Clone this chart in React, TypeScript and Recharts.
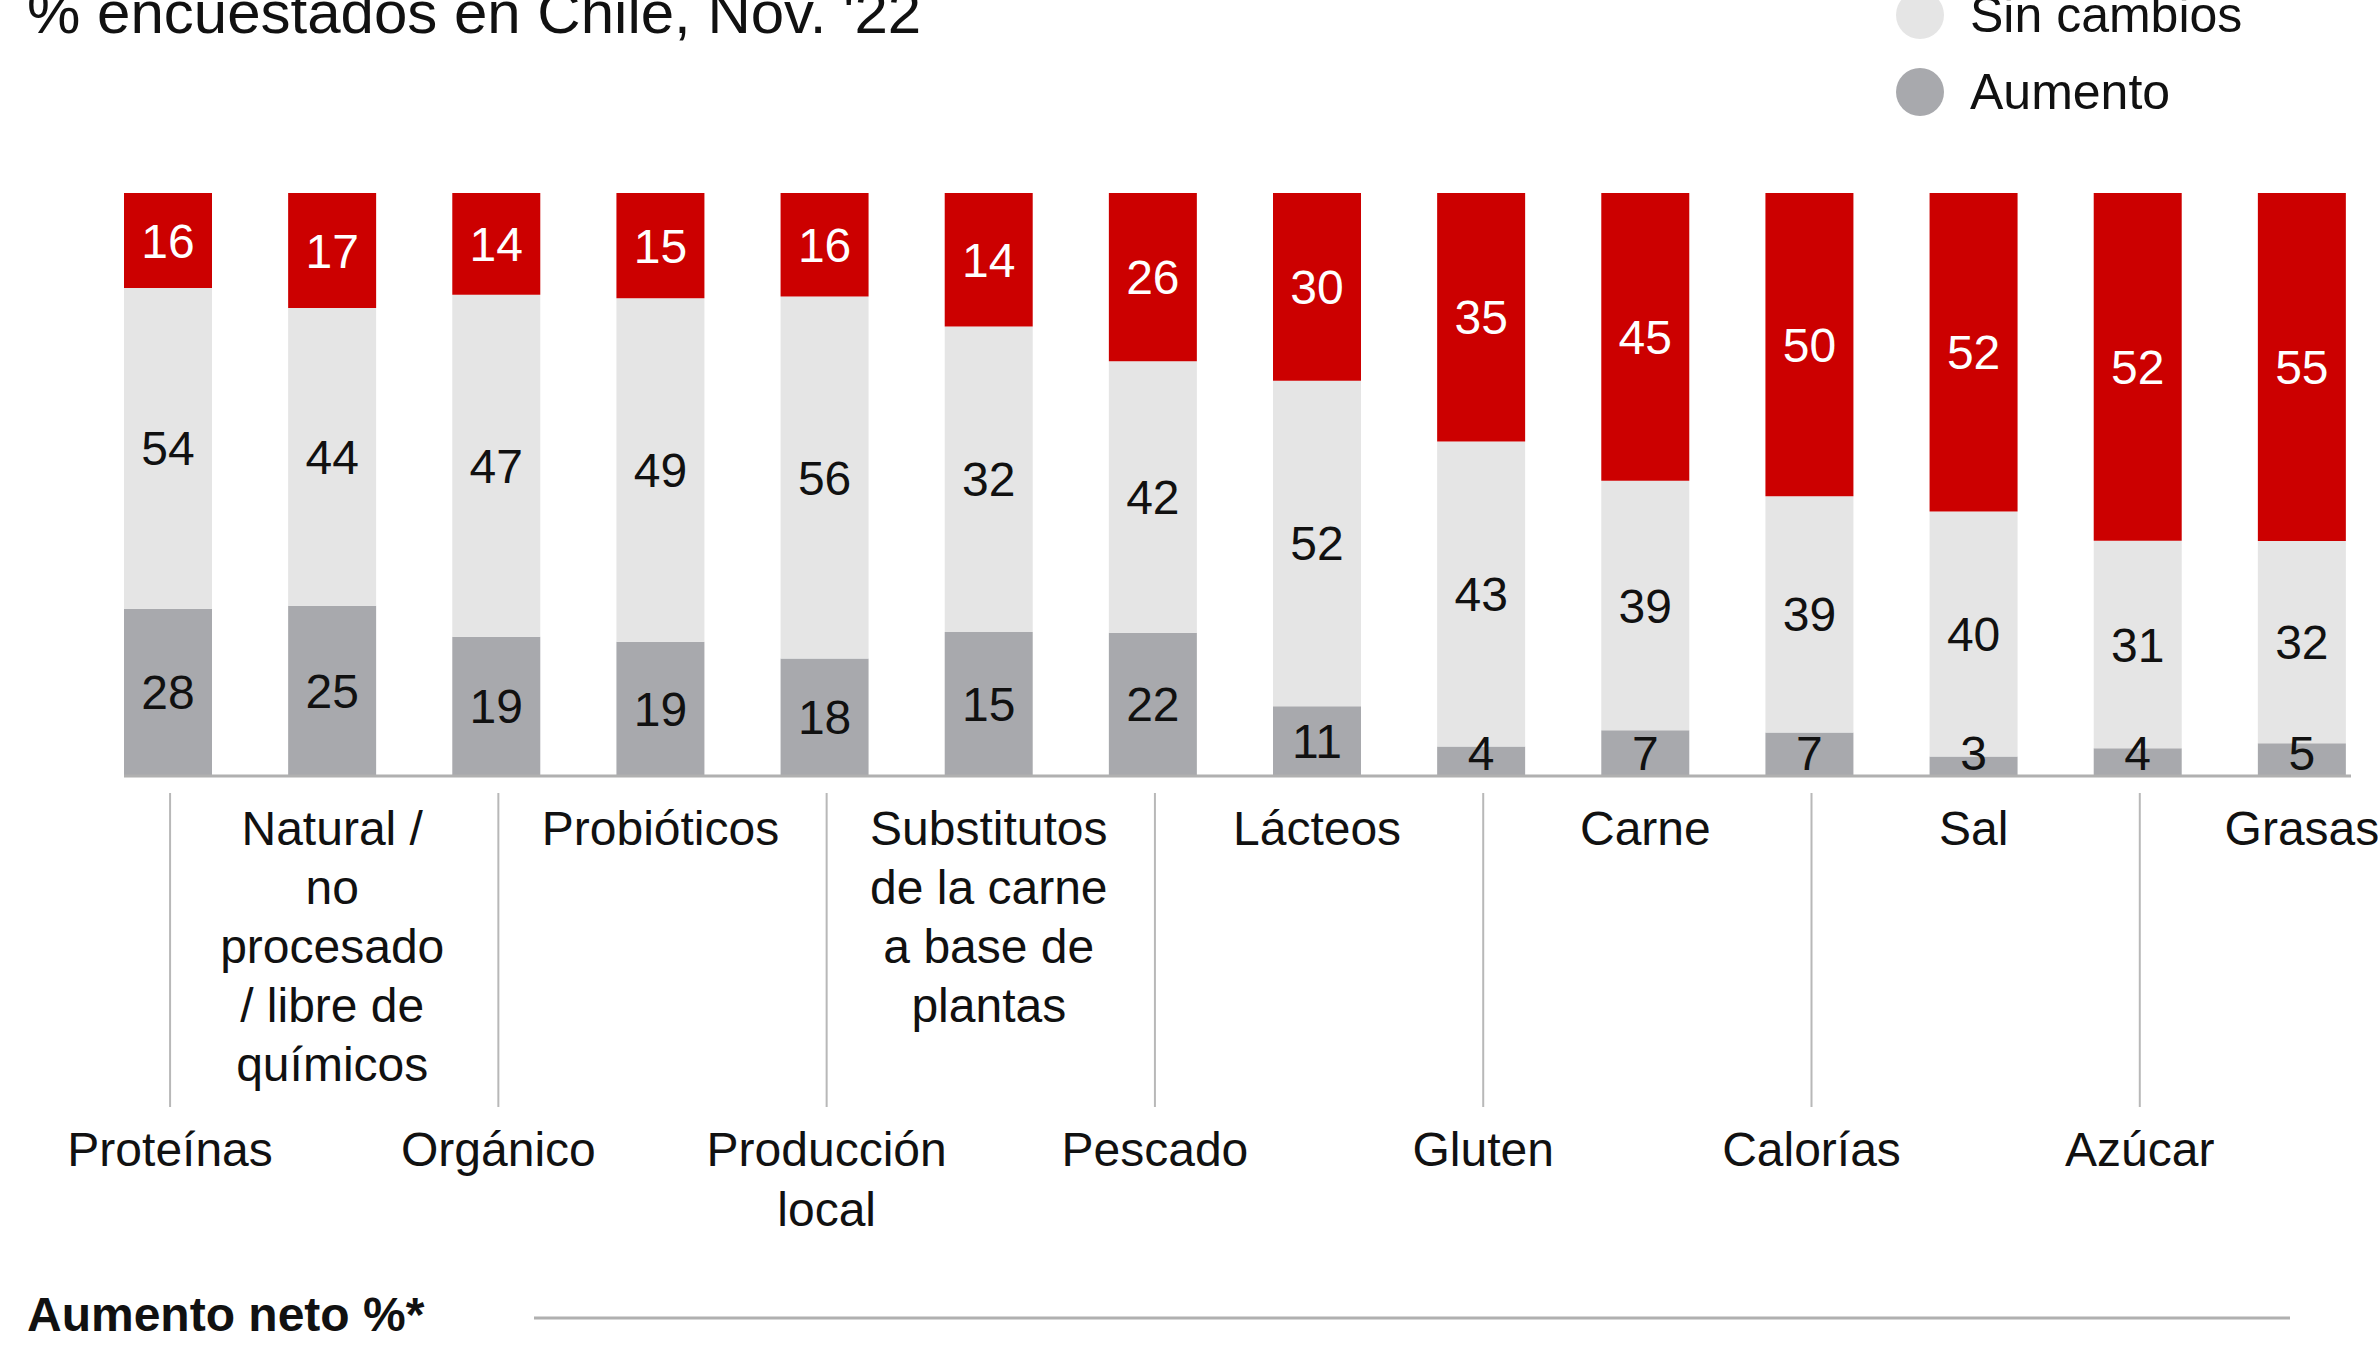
import React from 'react'
import { BarChart, Bar, XAxis, YAxis, LabelList } from 'recharts'

const categories = [
  'Proteínas', 'Natural / no procesado / libre de químicos', 'Orgánico', 'Probióticos',
  'Producción local', 'Substitutos de la carne a base de plantas', 'Pescado', 'Lácteos',
  'Gluten', 'Carne', 'Calorías', 'Sal', 'Azúcar', 'Grasas',
]
const tickLines = [
  ['Proteínas'], ['Natural /', 'no', 'procesado', '/ libre de', 'químicos'], ['Orgánico'], ['Probióticos'],
  ['Producción', 'local'], ['Substitutos', 'de la carne', 'a base de', 'plantas'], ['Pescado'], ['Lácteos'],
  ['Gluten'], ['Carne'], ['Calorías'], ['Sal'], ['Azúcar'], ['Grasas'],
]
const aumento = [28, 25, 19, 19, 18, 15, 22, 11, 4, 7, 7, 3, 4, 5]
const sinCambios = [54, 44, 47, 49, 56, 32, 42, 52, 43, 39, 39, 40, 31, 32]
const disminucion = [16, 17, 14, 15, 16, 14, 26, 30, 35, 45, 50, 52, 52, 55]

const RED = '#cc0000'
const LIGHT = '#e5e5e5'
const DARK = '#a8a9ad'
const FONT = "'Liberation Sans', Arial, sans-serif"

const data = categories.map((c, i) => ({
  name: c,
  aumento: aumento[i],
  sinCambios: sinCambios[i],
  disminucion: disminucion[i],
}))

function CategoryTick(props: any) {
  const { x, y, payload } = props
  const i = categories.indexOf(payload.value)
  const lines = tickLines[i] || [payload.value]
  const upper = i % 2 === 1
  if (upper) {
    return (
      <text textAnchor="middle" fontSize={48} fontFamily={FONT} fill="#111">
        {lines.map((l, k) => (
          <tspan key={k} x={x} y={y + 70 + k * 59}>{l}</tspan>
        ))}
      </text>
    )
  }
  return (
    <g>
      <line x1={x + 2} x2={x + 2} y1={y + 18} y2={y + 332} stroke="#b8b8b8" strokeWidth={2} />
      <text textAnchor="middle" fontSize={48} fontFamily={FONT} fill="#111">
        {lines.map((l, k) => (
          <tspan key={k} x={x + 2} y={y + 391 + k * 60}>{l}</tspan>
        ))}
      </text>
    </g>
  )
}

// bottom segment labels: kept above the baseline when the segment is thin
function BottomLabel(props: any) {
  const { x, y, width, height, value } = props
  const cy = Math.min(y + height / 2, y + height - 22)
  return (
    <text x={x + width / 2} y={cy} dy="0.36em" textAnchor="middle" fontSize={48} fontFamily={FONT} fill="#111">
      {value}
    </text>
  )
}

export default function App() {
  return (
    <div style={{ position: 'absolute', left: 0, top: 0, width: 2378, height: 1359, overflow: 'hidden', background: '#fff' }}>
      <div style={{ position: 'absolute', left: 0, top: 0 }}>
        <BarChart
          width={2400}
          height={1359}
          data={data}
          stackOffset="expand"
          barSize={88}
          margin={{ top: 193, right: 16, left: 86, bottom: 84 }}
        >
          <XAxis
            dataKey="name"
            interval={0}
            axisLine={false}
            tickLine={false}
            tickSize={0}
            tickMargin={0}
            height={500}
            tick={<CategoryTick />}
          />
          <YAxis hide domain={[0, 1]} />
          <Bar dataKey="aumento" stackId="a" fill={DARK} isAnimationActive={false}>
            <LabelList dataKey="aumento" content={<BottomLabel />} />
          </Bar>
          <Bar dataKey="sinCambios" stackId="a" fill={LIGHT} isAnimationActive={false}>
            <LabelList dataKey="sinCambios" position="center" fill="#111" fontSize={48} fontFamily={FONT} />
          </Bar>
          <Bar dataKey="disminucion" stackId="a" fill={RED} isAnimationActive={false}>
            <LabelList dataKey="disminucion" position="center" fill="#fff" fontSize={48} fontFamily={FONT} />
          </Bar>
        </BarChart>
      </div>
      <svg width={2378} height={1359} style={{ position: 'absolute', left: 0, top: 0, pointerEvents: 'none' }}>
        <text x={27} y={33} fontSize={60} fontFamily={FONT} fill="#111">% encuestados en Chile, Nov. '22</text>
        <circle cx={1920} cy={15} r={24} fill={LIGHT} />
        <text x={1970} y={32} fontSize={50} fontFamily={FONT} fill="#111">Sin cambios</text>
        <circle cx={1920} cy={92} r={24} fill={DARK} />
        <text x={1970} y={109} fontSize={50} fontFamily={FONT} fill="#111">Aumento</text>
        <line x1={124} x2={2351} y1={776} y2={776} stroke="#b0b0b0" strokeWidth={3} />
        <text x={27} y={1331} fontSize={48} fontWeight="bold" fontFamily={FONT} fill="#111">Aumento neto %*</text>
        <line x1={534} x2={2290} y1={1318} y2={1318} stroke="#b0b0b0" strokeWidth={3} />
      </svg>
    </div>
  )
}
